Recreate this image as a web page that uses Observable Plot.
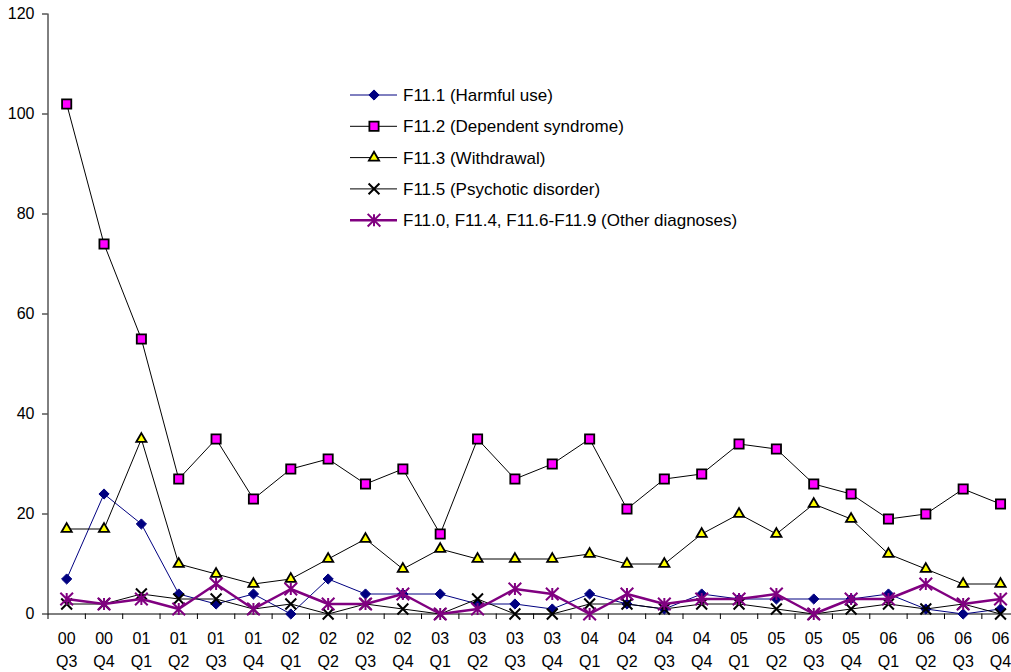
<!DOCTYPE html>
<html><head><meta charset="utf-8">
<script src="https://cdn.jsdelivr.net/npm/d3@7"></script>
<script src="https://cdn.jsdelivr.net/npm/@observablehq/plot@0.6"></script>
<style>
body{margin:0;background:#fff;}
#chart{position:relative;width:1011px;height:672px;overflow:hidden;}
#chart svg{display:block;}
#legend{position:absolute;left:0;top:0;pointer-events:none;}
</style></head><body><div id="chart"></div>
<script>
const periods = ["00 Q3","00 Q4","01 Q1","01 Q2","01 Q3","01 Q4","02 Q1","02 Q2","02 Q3","02 Q4",
  "03 Q1","03 Q2","03 Q3","03 Q4","04 Q1","04 Q2","04 Q3","04 Q4","05 Q1","05 Q2","05 Q3","05 Q4",
  "06 Q1","06 Q2","06 Q3","06 Q4"];
const harmful    = [7,24,18,4,2,4,0,7,4,4,4,2,2,1,4,2,1,4,3,3,3,3,4,1,0,1];
const dependent  = [102,74,55,27,35,23,29,31,26,29,16,35,27,30,35,21,27,28,34,33,26,24,19,20,25,22];
const withdrawal = [17,17,35,10,8,6,7,11,15,9,13,11,11,11,12,10,10,16,20,16,22,19,12,9,6,6];
const psychotic  = [2,2,4,3,3,1,2,0,2,1,0,3,0,0,2,2,1,2,2,1,0,1,2,1,2,0];
const other      = [3,2,3,1,6,1,5,2,2,4,0,1,5,4,0,4,2,3,3,4,0,3,3,6,2,3];
const seriesNames = ["F11.1 (Harmful use)","F11.2 (Dependent syndrome)","F11.3 (Withdrawal)",
  "F11.5 (Psychotic disorder)","F11.0, F11.4, F11.6-F11.9 (Other diagnoses)"];
const yTicks = [0,20,40,60,80,100,120];

const asterisk = {draw(ctx, size){
  const R = Math.sqrt(size/Math.PI), r = R*1.1, d = R*1.15;
  ctx.moveTo(0,-r); ctx.lineTo(0,r);
  ctx.moveTo(-d,-d); ctx.lineTo(d,d);
  ctx.moveTo(-d,d); ctx.lineTo(d,-d);
}};

const specs = [
  {values: harmful, line:"#000080", lw:1, symbol:"diamond2", d3s:d3.symbolDiamond2, fill:"#000080", stroke:"#000080", sw:1, r:4.6},
  {values: dependent, line:"#000", lw:1, symbol:"square", d3s:d3.symbolSquare, fill:"#ff00ff", stroke:"#000", sw:1.8, r:5.2},
  {values: withdrawal, line:"#000", lw:1, symbol:"triangle", d3s:d3.symbolTriangle, fill:"#ffff00", stroke:"#000", sw:1.8, r:3.8},
  {values: psychotic, line:"#000", lw:1, symbol:"times", d3s:d3.symbolTimes, fill:"none", stroke:"#000", sw:2, r:5},
  {values: other, line:"#800080", lw:2.5, symbol:asterisk, d3s:asterisk, fill:"none", stroke:"#800080", sw:2, r:5.5}
];
specs.forEach((s,k)=> s.name = seriesNames[k]);

const idx = periods.map((_, i) => i);
const boundaries = d3.range(-0.5, periods.length + 0.5, 1);
const rows = vals => vals.map((v, i) => ({i, v}));

const W = 1011, H = 672;
const chart = Plot.plot({
  width: W, height: H,
  marginLeft: 47.5, marginTop: 13.5, marginBottom: 58.5, marginRight: -7.7,
  style: {fontFamily: "'Liberation Sans', Arial, sans-serif", fontSize: "16px", color: "#000", background: "#fff"},
  x: {type: "linear", domain: [-0.5, periods.length - 0.5]},
  y: {domain: [0, 120]},
  marks: [
    Plot.axisY({ticks: yTicks, tickSize: 5.5, tickPadding: 8, tickFormat: d => String(d), label: null}),
    Plot.axisX({ticks: boundaries, tickSize: 5.5, tickFormat: () => "", label: null}),
    Plot.axisX({ticks: idx, tickSize: 0, tickPadding: 19, tickFormat: i => periods[i].split(" ")[0], label: null}),
    Plot.axisX({ticks: idx, tickSize: 0, tickPadding: 41.5, tickFormat: i => periods[i].split(" ")[1], label: null}),
    Plot.ruleX([-0.5], {y1: 0, y2: 120, stroke: "#000"}),
    Plot.ruleY([0], {stroke: "#000"}),
    ...specs.flatMap(s => [
      Plot.line(rows(s.values), {x: "i", y: "v", stroke: s.line, strokeWidth: s.lw}),
      Plot.dot(rows(s.values), {x: "i", y: "v", symbol: s.symbol, r: s.r, fill: s.fill, stroke: s.stroke, strokeWidth: s.sw})
    ])
  ]
});
const container = document.getElementById("chart");
container.appendChild(chart);

// legend overlay
const leg = d3.select(container).append("svg").attr("id","legend").attr("width", W).attr("height", H)
  .style("font-family", "'Liberation Sans', Arial, sans-serif").style("font-size", "17px");
specs.forEach((s, k) => {
  const y = 95 + k * 31.3;
  const g = leg.append("g");
  g.append("line").attr("x1", 350).attr("x2", 397).attr("y1", y).attr("y2", y)
    .attr("stroke", s.line).attr("stroke-width", s.lw);
  g.append("path").attr("transform", `translate(374,${y})`)
    .attr("d", d3.symbol(s.d3s, Math.PI * s.r * s.r)())
    .attr("fill", s.fill).attr("stroke", s.stroke).attr("stroke-width", s.sw);
  g.append("text").attr("x", 403).attr("y", y).attr("dy", "0.35em").text(s.name);
});
</script></body></html>
